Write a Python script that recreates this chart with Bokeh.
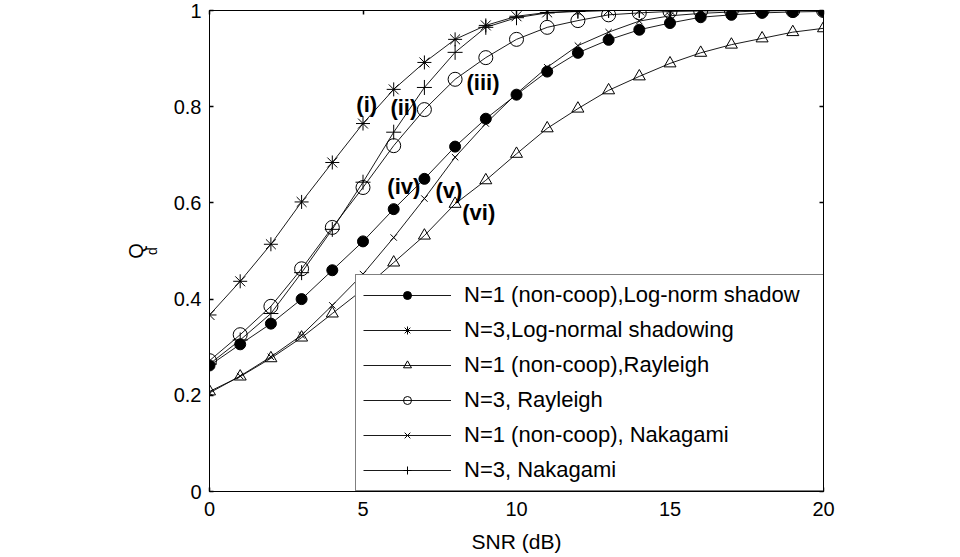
from bokeh.plotting import figure
from bokeh.models import LinearAxis, FixedTicker, Range1d
from bokeh.embed import file_html
from bokeh.resources import INLINE
from bokeh.core.properties import value

# ---------------- data ----------------
snr_db = [0, 1, 2, 3, 4, 5, 6, 7, 8, 9, 10, 11, 12, 13, 14, 15, 16, 17, 18, 19, 20]

qd_lognorm_n1 = [0.262, 0.306, 0.349, 0.400, 0.460, 0.520, 0.587, 0.650, 0.717, 0.775, 0.825,
                 0.873, 0.912, 0.939, 0.960, 0.974, 0.986, 0.991, 0.995, 0.997, 0.998]
qd_lognorm_n3 = [0.367, 0.437, 0.514, 0.602, 0.684, 0.765, 0.836, 0.892, 0.940, 0.969, 0.988,
                 0.996, 0.999, 1.0, 1.0, 1.0, 1.0, 1.0, 1.0, 1.0, 1.0]
qd_rayleigh_n1 = [0.208, 0.239, 0.277, 0.320, 0.370, 0.420, 0.476, 0.532, 0.598, 0.647, 0.702,
                  0.755, 0.796, 0.834, 0.863, 0.890, 0.912, 0.929, 0.942, 0.955, 0.963]
qd_rayleigh_n3 = [0.272, 0.326, 0.385, 0.463, 0.549, 0.632, 0.719, 0.794, 0.857, 0.902, 0.940,
                  0.965, 0.979, 0.991, 0.995, 0.998, 0.999, 1.0, 1.0, 1.0, 1.0]
qd_nakagami_n1 = [0.205, 0.240, 0.280, 0.325, 0.387, 0.452, 0.528, 0.609, 0.695, 0.765, 0.827,
                  0.882, 0.927, 0.955, 0.978, 0.989, 0.994, 0.997, 0.999, 1.0, 1.0]
qd_nakagami_n3 = [0.265, 0.315, 0.370, 0.455, 0.545, 0.643, 0.747, 0.840, 0.913, 0.965, 0.985,
                  0.995, 0.998, 1.0, 1.0, 1.0, 1.0, 1.0, 1.0, 1.0, 1.0]

series_names = ["N=1 (non-coop),Log-norm shadow", "N=3,Log-normal shadowing",
                "N=1 (non-coop),Rayleigh", "N=3, Rayleigh",
                "N=1 (non-coop), Nakagami", "N=3, Nakagami"]

x_ticks = [0, 5, 10, 15, 20]
x_tick_labels = ["0", "5", "10", "15", "20"]
y_ticks = [0, 0.2, 0.4, 0.6, 0.8, 1]
y_tick_labels = ["0", "0.2", "0.4", "0.6", "0.8", "1"]

curve_labels = ["(i)", "(ii)", "(iii)", "(iv)", "(v)", "(vi)"]

x_title = "SNR (dB)"
y_title_main = "Q"
y_title_sub = "d"

FONT = "Liberation Sans"

# ---------------- figure ----------------
p = figure(width=960, height=557, x_range=Range1d(0, 20), y_range=Range1d(0, 1),
           output_backend="svg", toolbar_location=None,
           x_axis_location=None, y_axis_location=None,
           min_border_left=209, min_border_right=137, min_border_top=10, min_border_bottom=66)
p.grid.visible = False
p.outline_line_color = "black"
p.background_fill_color = "white"
p.border_fill_color = "white"


def make_axis(ticks, labels, show, standoff):
    ax = LinearAxis(ticker=FixedTicker(ticks=ticks))
    ax.axis_line_color = "black"
    ax.axis_line_width = 1
    ax.major_tick_in = 4
    ax.major_tick_out = 0
    ax.major_tick_line_width = 1.5
    ax.major_tick_line_color = "black"
    ax.minor_tick_line_color = None
    ax.major_label_text_font = FONT
    ax.major_label_text_color = "black"
    if show:
        ax.major_label_overrides = dict(zip(ticks, labels))
        ax.major_label_text_font_size = "20px"
        ax.major_label_standoff = standoff
    else:
        ax.major_label_overrides = {t: "" for t in ticks}
        ax.major_label_text_font_size = "1px"
        ax.major_label_standoff = 0
    return ax


xb = make_axis(x_ticks, x_tick_labels, True, 10)
xb.axis_label = x_title
xb.axis_label_text_font = FONT
xb.axis_label_text_font_size = "21px"
xb.axis_label_text_font_style = "normal"
xb.axis_label_text_color = "black"
xb.axis_label_standoff = 11
p.add_layout(xb, "below")
p.add_layout(make_axis(x_ticks, x_tick_labels, False, 0), "above")

yl = make_axis(y_ticks, y_tick_labels, True, 8)
yl.axis_label = y_title_sub
yl.axis_label_text_font = FONT
yl.axis_label_text_font_size = "14px"
yl.axis_label_text_font_style = "normal"
yl.axis_label_text_color = "black"
yl.axis_label_standoff = 11
p.add_layout(yl, "left")

# outer left axis carrying only the main letter of the y title
yq = LinearAxis(ticker=FixedTicker(ticks=[]))
yq.axis_line_color = None
yq.major_tick_line_color = None
yq.minor_tick_line_color = None
yq.major_label_text_font_size = "1px"
yq.major_label_standoff = 0
yq.axis_label = y_title_main
yq.axis_label_text_font = FONT
yq.axis_label_text_font_size = "20px"
yq.axis_label_text_font_style = "normal"
yq.axis_label_text_color = "black"
yq.axis_label_standoff = -6
p.add_layout(yq, "left")

p.add_layout(make_axis(y_ticks, y_tick_labels, False, 0), "right")

styles = [
    (qd_lognorm_n1, "circle", 11, "black"),
    (qd_lognorm_n3, "asterisk", 14, None),
    (qd_rayleigh_n1, "triangle", 12, None),
    (qd_rayleigh_n3, "circle", 14, None),
    (qd_nakagami_n1, "x", 9, None),
    (qd_nakagami_n3, "cross", 15, None),
]
for name, (ys, marker, size, fill) in zip(series_names, styles):
    p.line(snr_db, ys, line_color="black", line_width=0.9, legend_label=name)
    p.scatter(snr_db, ys, marker=marker, size=size, line_color="black", line_width=1,
              fill_color=fill, legend_label=name)

# curve annotations
label_x = [5.12, 6.33, 8.91, 6.33, 7.80, 8.77]
label_y = [0.805, 0.798, 0.850, 0.634, 0.626, 0.580]
p.text(x=label_x, y=label_y, text=curve_labels, text_font=value(FONT), text_font_style="bold",
       text_font_size="22px", text_align="center", text_baseline="middle", text_color="black")

# legend
lg = p.legend[0]
lg.location = (146, 0)
lg.margin = 0
lg.padding = 7
lg.spacing = 9
lg.glyph_width = 88
lg.glyph_height = 20
lg.label_standoff = 13
lg.label_width = 355
lg.label_height = 20
lg.label_text_font = FONT
lg.label_text_font_size = "22px"
lg.label_text_color = "black"
lg.border_line_color = "black"
lg.border_line_width = 1
lg.background_fill_color = "white"
lg.background_fill_alpha = 1.0

open("out.html", "w").write(file_html(p, INLINE))
